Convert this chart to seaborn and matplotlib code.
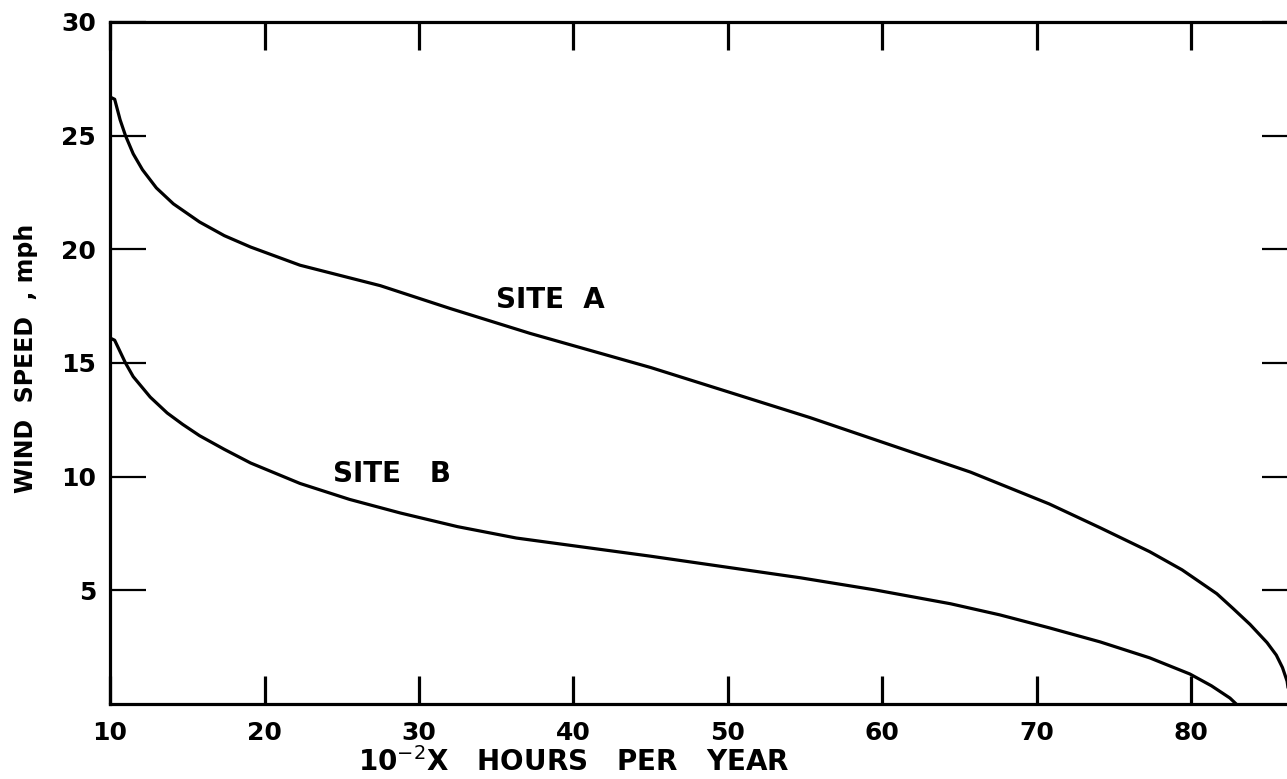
import numpy as np
import pandas as pd
import matplotlib
matplotlib.use("Agg")
import matplotlib.pyplot as plt
import seaborn as sns

# Data (hours per year x 10^-2, wind speed mph)
site_a_x = [10.0, 10.3, 10.65, 11.0, 11.5, 12.1, 13.0, 14.1, 15.8, 17.4, 19.1, 22.3, 24.9, 27.5,
            32.0, 37.2, 45.0, 55.3, 65.7, 70.8, 74.1, 77.3, 79.4, 81.65, 82.7, 83.8, 84.9, 85.5, 85.9, 86.2, 86.4]
site_a_y = [26.7, 26.6, 25.7, 25.0, 24.2, 23.5, 22.7, 22.0, 21.2, 20.6, 20.1, 19.3, 18.85, 18.4,
            17.4, 16.3, 14.8, 12.6, 10.2, 8.8, 7.75, 6.7, 5.9, 4.85, 4.2, 3.5, 2.7, 2.15, 1.6, 1.0, 0.0]

site_b_x = [10.0, 10.3, 11.0, 11.5, 12.6, 13.7, 14.7, 15.8, 17.4, 19.1, 22.3, 25.5, 28.8, 32.5,
            36.3, 45.0, 54.7, 59.5, 64.4, 67.6, 70.8, 74.1, 77.3, 79.9, 81.3, 82.5, 82.9]
site_b_y = [16.1, 16.0, 15.0, 14.4, 13.5, 12.8, 12.3, 11.8, 11.2, 10.6, 9.7, 9.0, 8.4, 7.8,
            7.3, 6.5, 5.55, 5.02, 4.41, 3.92, 3.35, 2.73, 2.03, 1.32, 0.8, 0.26, 0.0]

x_ticks = [10, 20, 30, 40, 50, 60, 70, 80]
x_tick_labels = ["10", "20", "30", "40", "50", "60", "70", "80"]
y_ticks = [5, 10, 15, 20, 25, 30]
y_tick_labels = ["5", "10", "15", "20", "25", "30"]

df = pd.concat([
    pd.DataFrame({"hours": site_a_x, "speed": site_a_y, "site": "SITE A"}),
    pd.DataFrame({"hours": site_b_x, "speed": site_b_y, "site": "SITE B"}),
])

sns.set_style("ticks")
plt.rcParams["font.family"] = ["DejaVu Sans"]
plt.rcParams["text.color"] = "black"
plt.rcParams["xtick.color"] = "black"
plt.rcParams["ytick.color"] = "black"
plt.rcParams["axes.labelcolor"] = "black"

fig = plt.figure(figsize=(12.87, 7.79), dpi=100)
ax = fig.add_axes([0.0855, 0.0963, 0.923, 0.8755])

sns.lineplot(data=df, x="hours", y="speed", units="site", estimator=None,
             color="black", linewidth=2.3, sort=False, legend=False, ax=ax)

ax.set_xlim(10, 86.9)
ax.set_ylim(0, 30)

for s in ax.spines.values():
    s.set_visible(True)
    s.set_linewidth(2.3)
    s.set_color("black")

ax.set_xticks(x_ticks)
ax.set_xticklabels(x_tick_labels, fontsize=18, fontweight="bold", color="black")
ax.set_yticks(y_ticks)
ax.set_yticklabels(y_tick_labels, fontsize=18, fontweight="bold", color="black")

ax.tick_params(axis="x", direction="in", length=20, width=2.3, top=True, bottom=True,
               labeltop=False, labelbottom=True, pad=12, colors="black")
ax.tick_params(axis="y", direction="in", length=26, width=1.6, left=True, right=True,
               labelleft=True, labelright=False, pad=10, colors="black")

ax.set_xlabel("")
ax.set_ylabel("")

ax.text(0.39, -0.085, "10$^{-2}$X   HOURS   PER   YEAR", transform=ax.transAxes,
        ha="center", va="center", fontsize=20, fontweight="bold", color="black")
fig.text(0.02, 0.54, "WIND  SPEED  , mph", rotation=90, ha="center", va="center",
         fontsize=17, fontweight="bold", color="black")

ax.text(38.5, 17.75, "SITE  A", ha="center", va="center", fontsize=20, fontweight="bold", color="black")
ax.text(28.25, 10.1, "SITE   B", ha="center", va="center", fontsize=20, fontweight="bold", color="black")

fig.savefig("out.png", dpi=100, facecolor="white")
